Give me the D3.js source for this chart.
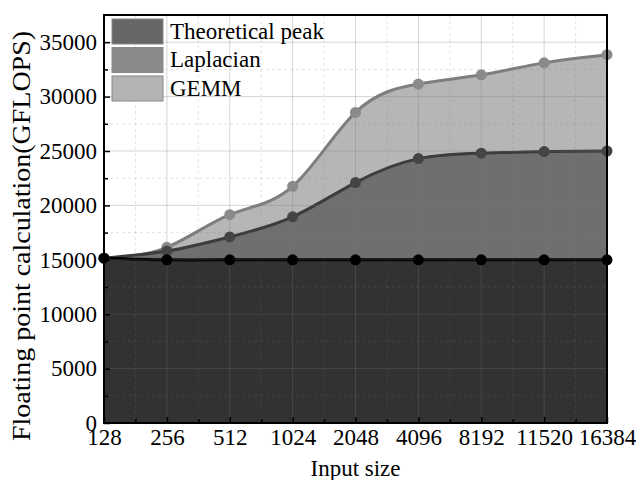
<!DOCTYPE html>
<html>
<head>
<meta charset="utf-8">
<script src="https://cdn.jsdelivr.net/npm/d3@7"></script>
<style>
  body { margin: 0; background: #fff; }
</style>
</head>
<body>
<script>
const sizes = ['128', '256', '512', '1024', '2048', '4096', '8192', '11520', '16384'];
const peak = [15150, 15000, 15000, 15000, 15000, 15000, 15000, 15000, 15000];
const laplacian = [15150, 15800, 17100, 18950, 22100, 24300, 24800, 24950, 25000];
const gemm = [15150, 16150, 19150, 21750, 28550, 31150, 32000, 33100, 33850];
const yTicks = [0, 5000, 10000, 15000, 20000, 25000, 30000, 35000];

const series = [
  { name: 'GEMM', values: gemm, fill: '#b6b6b6', line: '#7e7e7e', dot: '#8a8a8a', legend: '#b3b3b3' },
  { name: 'Laplacian', values: laplacian, fill: '#6f6f6f', line: '#3c3c3c', dot: '#454545', legend: '#8a8a8a' },
  { name: 'Theoretical peak', values: peak, fill: '#323232', line: '#000000', dot: '#000000', legend: '#666666' }
];

const serif = '"Liberation Serif", "Times New Roman", Times, serif';
const width = 636, height = 480;
const margin = { top: 15, right: 29, bottom: 57, left: 104 };
const w = width - margin.left - margin.right;
const h = height - margin.top - margin.bottom;

const svg = d3.select('body').append('svg')
  .attr('width', width)
  .attr('height', height);

const g = svg.append('g')
  .attr('transform', `translate(${margin.left},${margin.top})`);

const x = d3.scalePoint().domain(sizes).range([0, w]);
const y = d3.scaleLinear().domain([0, 37500]).range([h, 0]);

const area = d3.area()
  .x((d, i) => x(sizes[i]))
  .y0(h)
  .y1(d => y(d))
  .curve(d3.curveNatural);

const line = d3.line()
  .x((d, i) => x(sizes[i]))
  .y(d => y(d))
  .curve(d3.curveNatural);

g.append('clipPath').attr('id', 'clip')
  .append('rect').attr('width', w).attr('height', h);

const plot = g.append('g').attr('clip-path', 'url(#clip)');

series.forEach(s => {
  plot.append('path')
    .datum(s.values)
    .attr('d', area)
    .attr('fill', s.fill);
});

// grid lines (drawn over fills, semi transparent)
const step = x.step();
const grid = g.append('g').attr('class', 'grid');
sizes.forEach((s, i) => {
  grid.append('line')
    .attr('x1', x(s)).attr('x2', x(s)).attr('y1', 0).attr('y2', h)
    .attr('stroke', 'rgba(120,120,120,0.3)').attr('stroke-width', 1);
  if (i < sizes.length - 1) {
    grid.append('line')
      .attr('x1', x(s) + step / 2).attr('x2', x(s) + step / 2).attr('y1', 0).attr('y2', h)
      .attr('stroke', 'rgba(120,120,120,0.2)').attr('stroke-dasharray', '3,3');
  }
});
d3.range(2500, 37500, 2500).forEach(v => {
  const major = v % 5000 === 0;
  grid.append('line')
    .attr('x1', 0).attr('x2', w).attr('y1', y(v)).attr('y2', y(v))
    .attr('stroke', major ? 'rgba(120,120,120,0.3)' : 'rgba(120,120,120,0.2)')
    .attr('stroke-dasharray', major ? null : '3,3');
});

series.forEach(s => {
  plot.append('path')
    .datum(s.values)
    .attr('d', line)
    .attr('fill', 'none')
    .attr('stroke', s.line)
    .attr('stroke-width', 3);
});

series.forEach(s => {
  g.append('g').selectAll('circle')
    .data(s.values)
    .join('circle')
    .attr('cx', (d, i) => x(sizes[i]))
    .attr('cy', d => y(d))
    .attr('r', 5.5)
    .attr('fill', s.dot);
});

// axes
const yAxis = g.append('g')
  .call(d3.axisLeft(y).tickValues(yTicks).tickSize(-6).tickPadding(7).tickFormat(d3.format('d')));
g.append('g')
  .call(d3.axisLeft(y).tickValues(d3.range(2500, 37500, 5000)).tickSize(-4).tickFormat(''));

const xAxis = g.append('g')
  .attr('transform', `translate(0,${h})`)
  .call(d3.axisBottom(x).tickSize(-6).tickPadding(5));
g.append('g')
  .attr('transform', `translate(0,${h})`)
  .call(d3.axisBottom(d3.scaleLinear().domain([0, w]).range([0, w]))
    .tickValues(d3.range(step / 2, w, step)).tickSize(-4).tickFormat(''));

g.selectAll('.domain').remove();
g.selectAll('.tick line').attr('stroke', '#000').attr('stroke-width', 1.5);
yAxis.attr('font-family', null);
xAxis.attr('font-family', null);
yAxis.selectAll('text').attr('font-size', 23).attr('fill', '#000').style('font-family', serif);
xAxis.selectAll('text').attr('font-size', 23).attr('fill', '#000').attr('dy', '0.72em').style('font-family', serif);

g.append('rect')
  .attr('width', w).attr('height', h)
  .attr('fill', 'none')
  .attr('stroke', '#000')
  .attr('stroke-width', 2);

// legend
const legendItems = series.slice().reverse();
const legend = g.append('g').attr('transform', 'translate(8,4)');
legendItems.forEach((s, i) => {
  const row = legend.append('g').attr('transform', `translate(0,${i * 28.5})`);
  row.append('rect')
    .attr('width', 51).attr('height', 25)
    .attr('fill', s.legend)
    .attr('stroke', '#888').attr('stroke-width', 1);
  row.append('text')
    .attr('x', 58).attr('y', 19.5)
    .attr('font-size', 23)
    .style('font-family', serif)
    .text(s.name);
});

// axis titles
svg.append('text')
  .attr('transform', 'translate(30,236) rotate(-90)')
  .attr('text-anchor', 'middle')
  .attr('font-size', 26)
  .attr('textLength', 410)
  .attr('lengthAdjust', 'spacingAndGlyphs')
  .style('font-family', serif)
  .text('Floating point calculation(GFLOPS)');

svg.append('text')
  .attr('x', margin.left + w / 2)
  .attr('y', 476)
  .attr('text-anchor', 'middle')
  .attr('font-size', 23)
  .style('font-family', serif)
  .text('Input size');
</script>
</body>
</html>
